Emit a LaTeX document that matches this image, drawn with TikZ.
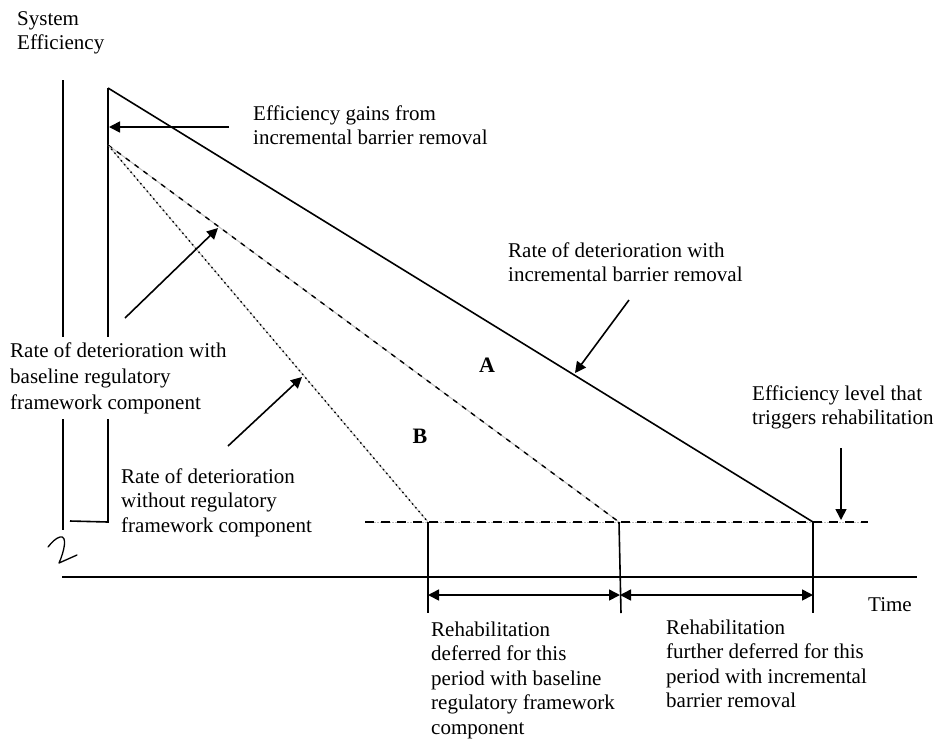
\documentclass[tikz,border=0pt]{standalone}
\usepackage{fontspec}
\setmainfont{Liberation Serif}
\usetikzlibrary{arrows.meta}
\newcommand{\mlines}[1]{\begin{tabular}[t]{@{}l@{}}#1\end{tabular}}
\begin{document}
\begin{tikzpicture}[x=1pt,y=-1pt,
  lbl/.style={anchor=base west, inner xsep=0pt, inner ysep=2pt, fill=white, font=\fontsize{21}{24.8}\selectfont},
  big/.style={anchor=base, inner sep=0pt, font=\fontsize{22}{26}\selectfont\bfseries},
  solidln/.style={line width=1.6pt},
  arr/.style={line width=1.6pt, -{Triangle[length=11pt,width=11pt]}},
  darr/.style={line width=1.6pt, {Triangle[length=11pt,width=11pt]}-{Triangle[length=11pt,width=11pt]}},
  grayunder/.style={gray!50, line width=1pt},
  dashblack/.style={line width=1.6pt, dash pattern=on 9pt off 7pt},
  dashdiag/.style={line width=1.4pt, dash pattern=on 5pt off 6pt},
  dotdiag/.style={line width=1.4pt, dash pattern=on 1.5pt off 3.5pt},
]
\useasboundingbox (0,0) rectangle (936,740);

% coordinates
\coordinate (top) at (108,88);
\coordinate (dstart) at (108,145);
\coordinate (e1) at (428,522);
\coordinate (e2) at (619,522);
\coordinate (e3) at (813,522);
\coordinate (hl) at (365,522);
\coordinate (hr) at (868,522);

% axes
\draw[solidln] (63,80) -- (63,530);
\draw[solidln] (70,521) -- (108,522) -- (top);
\draw[solidln] (62,577) -- (917,577);

% squiggle
\draw[line width=1.3pt, line cap=round, line join=round]
  (48,547) .. controls (52,542) and (56,538) .. (60,537)
  .. controls (68,535) and (64,552) .. (59,563)
  -- (77,555);

% main deterioration lines
\draw[solidln] (top) -- (e3);
\draw[grayunder] (dstart) -- (e2);
\draw[dashdiag] (dstart) -- (e2);
\draw[grayunder] (dstart) -- (e1);
\draw[dotdiag] (dstart) -- (e1);

% threshold level
\draw[grayunder, dash pattern=on 1.5pt off 1.5pt] (hl) -- (hr);
\draw[dashblack] (hl) -- (hr);

% verticals
\coordinate (v1b) at (428,613);
\coordinate (v2b) at (621,613);
\coordinate (v3b) at (813,613);
\draw[solidln] (e1) -- (v1b);
\draw[solidln] (e2) -- (v2b);
\draw[solidln] (e3) -- (v3b);

% period arrows
\coordinate (p1) at (428,595);
\coordinate (p2) at (620,595);
\coordinate (p3) at (813,595);
\draw[darr] (p1) -- (p2);
\draw[darr] (p2) -- (p3);

% pointer arrows
\coordinate (g0) at (229,127);
\coordinate (g1) at (109,127);
\draw[arr] (g0) -- (g1);
\coordinate (i0) at (629,300);
\coordinate (i1) at (575,373);
\draw[arr] (i0) -- (i1);
\coordinate (b0) at (125,318);
\coordinate (b1) at (218,228);
\draw[arr] (b0) -- (b1);
\coordinate (w0) at (228,446);
\coordinate (w1) at (302,377);
\draw[arr] (w0) -- (w1);
\coordinate (t0) at (841,448);
\coordinate (t1) at (841,520);
\draw[arr] (t0) -- (t1);

% labels
\node[lbl] (sys) at (17,25) {\mlines{System\\Efficiency}};
\node[lbl] (gains) at (253,120) {\mlines{Efficiency gains from\\incremental barrier removal}};
\node[lbl] (incr) at (508,257) {\mlines{Rate of deterioration with\\incremental barrier removal}};
\node[big] (A) at (487,372) {A};
\node[big] (B) at (420,443) {B};
\node[lbl, font=\fontsize{21}{26}\selectfont] (basel) at (10,357) {\mlines{Rate of deterioration with\\baseline regulatory\\framework component}};
\node[lbl] (without) at (121,483) {\mlines{Rate of deterioration\\without regulatory\\framework component}};
\node[lbl] (trig) at (752,400) {\mlines{Efficiency level that\\triggers rehabilitation}};
\node[lbl] (time) at (868,611) {Time};
\node[lbl, font=\fontsize{21}{24.5}\selectfont] (reh1) at (431,636) {\mlines{Rehabilitation\\deferred for this\\period with baseline\\regulatory framework\\component}};
\node[lbl, font=\fontsize{21}{24.5}\selectfont] (reh2) at (666,634) {\mlines{Rehabilitation\\further deferred for this\\period with incremental\\barrier removal}};
\end{tikzpicture}
\end{document}
